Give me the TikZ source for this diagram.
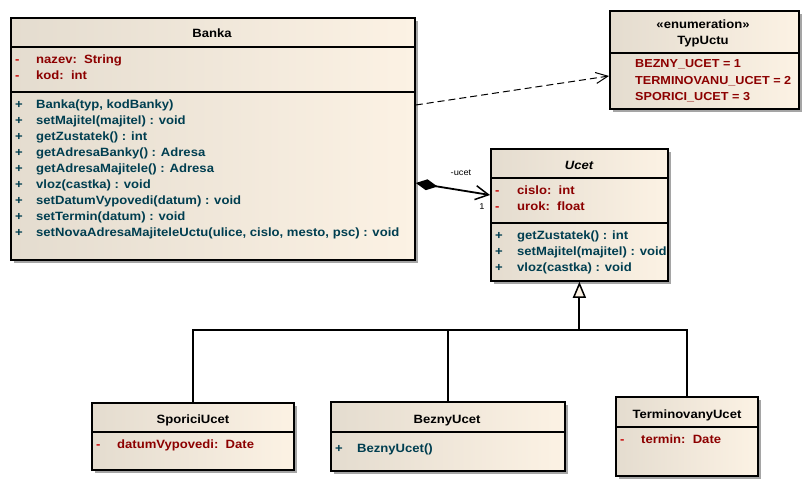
\documentclass[tikz,border=0pt]{standalone}
\usepackage{fontspec}
\setmainfont{Liberation Sans}[FakeStretch=1.09]
\usetikzlibrary{arrows.meta,shadows,calc}
\definecolor{attrc}{RGB}{140,0,0}
\definecolor{minusc}{RGB}{200,0,0}
\definecolor{methc}{RGB}{0,62,80}
\definecolor{fillL}{RGB}{228,220,207}
\definecolor{fillR}{RGB}{252,242,228}
\definecolor{shad}{RGB}{165,165,165}
\begin{document}
\begin{tikzpicture}[x=1pt,y=-1pt,
  classbox/.style={draw=black, line width=1.8pt, left color=fillL, right color=fillR, anchor=north west, inner sep=0, drop shadow={shadow xshift=3.5pt, shadow yshift=-3.5pt, fill=shad, opacity=1}},
  divider/.style={line width=1.8pt},
  txt/.style={inner sep=0, anchor=base west, font=\fontsize{12}{14}\selectfont\bfseries},
  ttl/.style={inner sep=0, anchor=base, font=\fontsize{12}{14}\selectfont\bfseries},
  attr/.style={txt, text=attrc},
  meth/.style={txt, text=methc},
  vis/.style={txt, text=minusc},
  visp/.style={txt, text=methc},
  conn/.style={line width=1.5pt},
  lbl/.style={inner sep=0, anchor=base, font=\fontsize{8.5}{10}\selectfont}
]
\useasboundingbox (0,0) rectangle (809,486);

% ---------- Banka ----------
\node[classbox, minimum width=404pt, minimum height=242pt] (banka) at (10,17) {};
\draw[divider] (10,47) -- (414,47);
\draw[divider] (10,92) -- (414,92);
\node[ttl] (bankaT) at (212,38) {Banka};
\node[vis] (ba1m) at (15,64) {-};
\node[attr] (ba1) at (36,64) {nazev:\ \ String};
\node[vis] (ba2m) at (15,80) {-};
\node[attr] (ba2) at (36,80) {kod:\ \ int};
\foreach \t [count=\i] in {{Banka(typ, kodBanky)},{setMajitel(majitel) : void},{getZustatek() : int},{getAdresaBanky() : Adresa},{getAdresaMajitele() : Adresa},{vloz(castka) : void},{setDatumVypovedi(datum) : void},{setTermin(datum) : void},{setNovaAdresaMajiteleUctu(ulice, cislo, mesto, psc) : void}}{
  \node[visp] (bp\i) at (15,93+16*\i) {+};
  \node[meth] (bm\i) at (36,93+16*\i) {\t};
}

% ---------- TypUctu ----------
\node[classbox, minimum width=189pt, minimum height=98pt] (typ) at (609,10) {};
\draw[divider] (609,53) -- (798,53);
\node[ttl] (typS) at (703,29) {«enumeration»};
\node[ttl] (typT) at (703,45) {TypUctu};
\node[attr, font=\fontsize{11.6}{14}\selectfont\bfseries] (typ1) at (635,68) {BEZNY\_UCET = 1};
\node[attr, font=\fontsize{11.6}{14}\selectfont\bfseries] (typ2) at (635,85) {TERMINOVANU\_UCET = 2};
\node[attr, font=\fontsize{11.6}{14}\selectfont\bfseries] (typ3) at (635,101) {SPORICI\_UCET = 3};

% ---------- Ucet ----------
\node[classbox, minimum width=177pt, minimum height=132pt] (ucet) at (490,148) {};
\draw[divider] (490,178) -- (667,178);
\draw[divider] (490,223) -- (667,223);
\node[ttl, font=\fontsize{12}{14}\selectfont\bfseries\itshape] (ucetT) at (579,170) {Ucet};
\node[vis] (ua1m) at (495,195) {-};
\node[attr] (ua1) at (517,195) {cislo:\ \ int};
\node[vis] (ua2m) at (495,211) {-};
\node[attr] (ua2) at (517,211) {urok:\ \ float};
\node[visp] (um1p) at (495,240) {+};
\node[meth] (um1) at (517,240) {getZustatek() : int};
\node[visp] (um2p) at (495,256) {+};
\node[meth] (um2) at (517,256) {setMajitel(majitel) : void};
\node[visp] (um3p) at (495,272) {+};
\node[meth] (um3) at (517,272) {vloz(castka) : void};

% ---------- SporiciUcet ----------
\node[classbox, minimum width=202pt, minimum height=67pt] (sporici) at (91,402) {};
\draw[divider] (91,432) -- (293,432);
\node[ttl] (sporT) at (193,423) {SporiciUcet};
\node[vis] (spm) at (96,448) {-};
\node[attr] (spa) at (117,448) {datumVypovedi:\ \ Date};

% ---------- BeznyUcet ----------
\node[classbox, minimum width=234pt, minimum height=69pt] (bezny) at (330,401) {};
\draw[divider] (330,432) -- (564,432);
\node[ttl] (bezT) at (447,423) {BeznyUcet};
\node[visp] (bzp) at (335,452) {+};
\node[meth] (bzm) at (357,452) {BeznyUcet()};

% ---------- TerminovanyUcet ----------
\node[classbox, minimum width=142pt, minimum height=79pt] (termin) at (615,396) {};
\draw[divider] (615,427) -- (757,427);
\node[ttl] (terT) at (687,418) {TerminovanyUcet};
\node[vis] (tem) at (620,443) {-};
\node[attr] (tea) at (641,443) {termin:\ \ Date};

% ---------- connectors ----------
\coordinate (dy1) at (0,105);
\coordinate (dy2) at (0,76);
\draw[line width=1pt, dash pattern=on 7pt off 4pt, -{Straight Barb[length=12pt,width=11pt]}] (banka.east |- dy1) -- (typ.west |- dy2);

\coordinate (cy1) at (0,183);
\coordinate (cy2) at (0,195);
\draw[line width=1.8pt, {Diamond[length=22pt,width=11pt,fill=black]}-{Straight Barb[length=13pt,width=14pt,line width=1.5pt]}] (banka.east |- cy1) -- (ucet.west |- cy2);
\node[lbl] (lucet) at (461,176) {-ucet};
\node[lbl] (lone) at (482,210) {1};

\coordinate (jy) at (0,330);
\coordinate (j) at (ucet.south |- jy);
\coordinate (jb) at (bezny.north |- jy);
\draw[conn] (sporici.north) |- (j);
\draw[conn] (termin.north) |- (j);
\draw[conn] (bezny.north) -- (jb);
\draw[line width=2pt] (jb) -- (j);
\draw[line width=2pt, -{Triangle[length=16pt,width=13pt,fill=fillR,line width=1.5pt]}] (j) -- (ucet.south);
\end{tikzpicture}
\end{document}
